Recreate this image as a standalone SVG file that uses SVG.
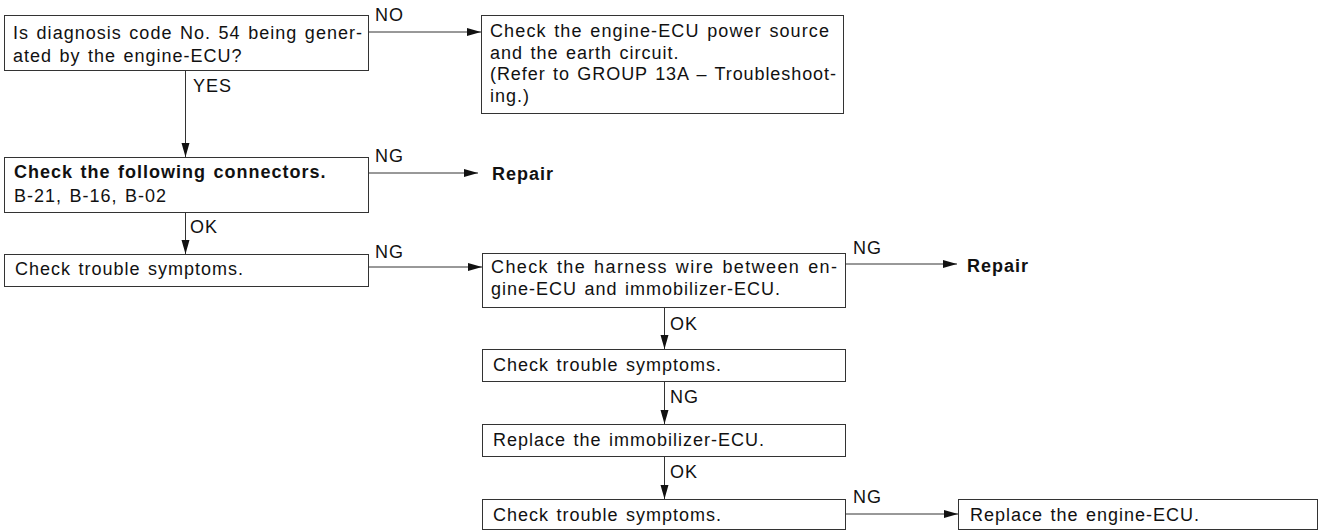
<svg xmlns="http://www.w3.org/2000/svg" width="1326" height="531" viewBox="0 0 1326 531">
<style>
  .box { fill: #ffffff; stroke: #333333; stroke-width: 1; }
  .t { font-family: "Liberation Sans", Arial, sans-serif; font-size: 18px; fill: #111111; letter-spacing: 1px; word-spacing: 1.5px; }
  .b { font-weight: bold; }
  .c { fill: none; stroke: #333333; stroke-width: 1; marker-end: url(#ah); }
</style>
<defs>
  <marker id="ah" markerUnits="userSpaceOnUse" markerWidth="16" markerHeight="9" refX="14" refY="4" orient="auto">
    <path d="M0,0 L14,4 L0,8 Z" fill="#111111"/>
  </marker>
</defs>
<rect width="1326" height="531" fill="#ffffff"/>

<g id="connectors">
  <line class="c" x1="368" y1="32" x2="481" y2="32"/>
  <text class="t" x="375" y="21">NO</text>
  <line class="c" x1="185.5" y1="70" x2="185.5" y2="157"/>
  <text class="t" x="193" y="92">YES</text>
  <line class="c" x1="368" y1="173" x2="478" y2="173"/>
  <text class="t" x="375" y="162">NG</text>
  <line class="c" x1="185.5" y1="212" x2="185.5" y2="254"/>
  <text class="t" x="190" y="233">OK</text>
  <line class="c" x1="368" y1="267" x2="482" y2="267"/>
  <text class="t" x="375" y="258">NG</text>
  <line class="c" x1="845" y1="264" x2="957" y2="264"/>
  <text class="t" x="853" y="254">NG</text>
  <line class="c" x1="664.5" y1="307" x2="664.5" y2="349"/>
  <text class="t" x="670" y="330">OK</text>
  <line class="c" x1="664.5" y1="381" x2="664.5" y2="424"/>
  <text class="t" x="670" y="403">NG</text>
  <line class="c" x1="664.5" y1="456" x2="664.5" y2="499"/>
  <text class="t" x="670" y="478">OK</text>
  <line class="c" x1="845" y1="514" x2="958" y2="514"/>
  <text class="t" x="853" y="503">NG</text>
</g>

<g id="n1">
  <rect class="box" x="4.5" y="15.5" width="364" height="55"/>
  <text class="t" x="13" y="39" textLength="350" lengthAdjust="spacing">Is diagnosis code No. 54 being gener-</text>
  <text class="t" x="13" y="62">ated by the engine-ECU?</text>
</g>
<g id="n2">
  <rect class="box" x="481.5" y="15.5" width="362" height="98"/>
  <text class="t" x="490" y="37" textLength="340" lengthAdjust="spacing">Check the engine-ECU power source</text>
  <text class="t" x="490" y="58.5">and the earth circuit.</text>
  <text class="t" x="490" y="80" textLength="347" lengthAdjust="spacing">(Refer to GROUP 13A – Troubleshoot-</text>
  <text class="t" x="490" y="101.5">ing.)</text>
</g>
<g id="n3">
  <rect class="box" x="4.5" y="157.5" width="364" height="55"/>
  <text class="t b" x="14" y="178">Check the following connectors.</text>
  <text class="t" x="14" y="202">B-21, B-16, B-02</text>
</g>
<g id="n_repair1">
  <text class="t b" x="492" y="180">Repair</text>
</g>
<g id="n4">
  <rect class="box" x="4.5" y="254.5" width="364" height="32"/>
  <text class="t" x="15" y="275">Check trouble symptoms.</text>
</g>
<g id="n5">
  <rect class="box" x="482.5" y="253.5" width="363" height="54"/>
  <text class="t" x="491" y="273" textLength="347" lengthAdjust="spacing">Check the harness wire between en-</text>
  <text class="t" x="491" y="295">gine-ECU and immobilizer-ECU.</text>
</g>
<g id="n_repair2">
  <text class="t b" x="967" y="272">Repair</text>
</g>
<g id="n6">
  <rect class="box" x="482.5" y="349.5" width="363" height="32"/>
  <text class="t" x="493" y="371">Check trouble symptoms.</text>
</g>
<g id="n7">
  <rect class="box" x="482.5" y="424.5" width="363" height="32"/>
  <text class="t" x="493" y="446">Replace the immobilizer-ECU.</text>
</g>
<g id="n8">
  <rect class="box" x="482.5" y="499.5" width="363" height="30"/>
  <text class="t" x="493" y="521">Check trouble symptoms.</text>
</g>
<g id="n9">
  <rect class="box" x="958.5" y="499.5" width="359" height="30"/>
  <text class="t" x="970" y="521">Replace the engine-ECU.</text>
</g>
</svg>
